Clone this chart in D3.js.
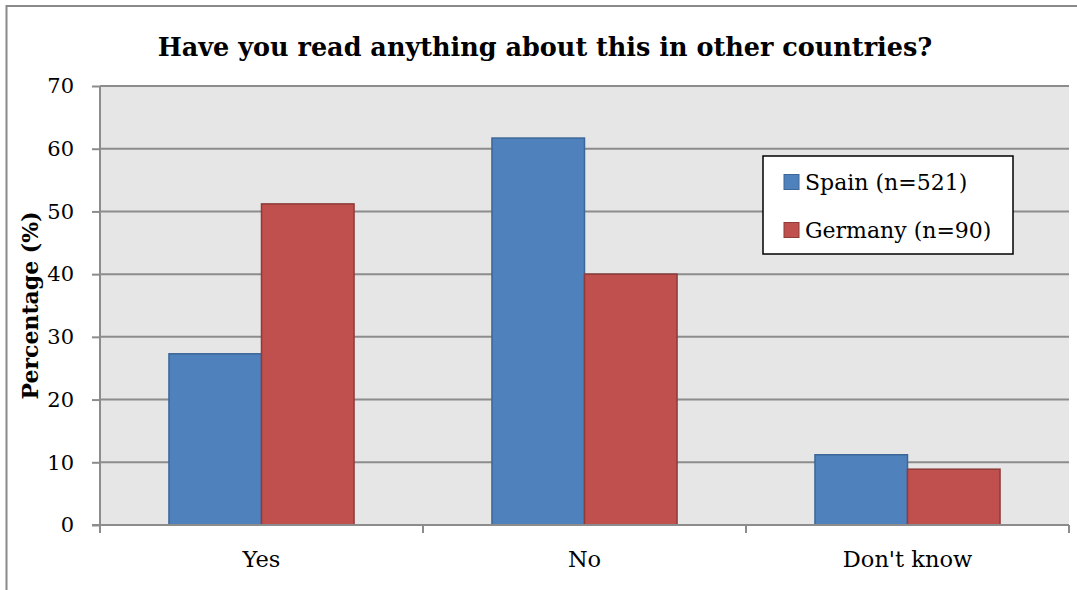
<!DOCTYPE html>
<html>
<head>
<meta charset="utf-8">
<script src="https://cdn.jsdelivr.net/npm/d3@7"></script>
<style>
  html, body { margin: 0; padding: 0; background: #fff; }
  svg { display: block; }
  text { font-family: "DejaVu Serif", "Liberation Serif", serif; fill: #000; }
</style>
</head>
<body>
<svg id="chart" width="1077" height="590"></svg>
<script>
const title = "Have you read anything about this in other countries?";
const yAxisLabel = "Percentage (%)";
const categories = ["Yes", "No", "Don't know"];
const seriesNames = ["Spain (n=521)", "Germany (n=90)"];
const spainValues = [27.3, 61.7, 11.2];
const germanyValues = [51.2, 40.0, 8.9];
const yTicks = [0, 10, 20, 30, 40, 50, 60, 70];

const fills = ["#4F81BD", "#C0504D"];
const strokes = ["#3C6796", "#8E3B39"];
const series = [spainValues, germanyValues];

const svg = d3.select("#chart");
const W = 1077, H = 590;
const m = { left: 100, right: 1069, top: 86, bottom: 525 };

// outer chart border (extends past the right/bottom edges)
svg.append("rect").attr("x", 6.5).attr("y", 6).attr("width", W + 20).attr("height", H + 20)
  .attr("fill", "#fff").attr("stroke", "#8a8a8a").attr("stroke-width", 2);

// plot background
svg.append("rect").attr("x", m.left).attr("y", m.top)
  .attr("width", m.right - m.left).attr("height", m.bottom - m.top)
  .attr("fill", "#E6E6E6");

const y = d3.scaleLinear().domain([0, 70]).range([m.bottom, m.top]);
const x0 = d3.scaleBand().domain(categories).range([m.left, m.right]).paddingInner(0.427).paddingOuter(0.2135);
const x1 = d3.scaleBand().domain([0, 1]).range([0, x0.bandwidth()]);

// gridlines
svg.append("g").selectAll("line").data(yTicks.filter(d => d > 0)).join("line")
  .attr("x1", m.left).attr("x2", m.right)
  .attr("y1", d => y(d)).attr("y2", d => y(d))
  .attr("stroke", "#8c8c8c").attr("stroke-width", 2);

// bars
const groups = svg.append("g").selectAll("g").data(categories).join("g")
  .attr("transform", d => `translate(${x0(d)},0)`);
groups.selectAll("rect").data((d, i) => series.map((s, k) => ({ k, v: s[i] }))).join("rect")
  .attr("x", d => x1(d.k)).attr("width", x1.bandwidth())
  .attr("y", d => y(d.v)).attr("height", d => y(0) - y(d.v))
  .attr("fill", d => fills[d.k]).attr("stroke", d => strokes[d.k]).attr("stroke-width", 1.5);

// y axis
const yAxis = d3.axisLeft(y).tickValues(yTicks).tickSize(8).tickPadding(18).tickFormat(d3.format("d"));
const gy = svg.append("g").attr("transform", `translate(${m.left},0)`).call(yAxis);
gy.select(".domain").attr("stroke", "#8c8c8c").attr("stroke-width", 2).attr("d", `M0,${m.top}V${m.bottom}`);
gy.selectAll(".tick line").attr("stroke", "#8c8c8c").attr("stroke-width", 2);
gy.selectAll(".tick text").attr("font-family", "DejaVu Serif").attr("font-size", 21).attr("fill", "#000");

// x axis
const xBoundaries = d3.scaleLinear().domain([0, categories.length]).range([m.left, m.right]);
const gx = svg.append("g");
gx.append("line").attr("x1", m.left - 8).attr("x2", m.right).attr("y1", m.bottom).attr("y2", m.bottom)
  .attr("stroke", "#8c8c8c").attr("stroke-width", 2);
gx.selectAll("line.tk").data(d3.range(categories.length + 1)).join("line").attr("class", "tk")
  .attr("x1", d => xBoundaries(d)).attr("x2", d => xBoundaries(d))
  .attr("y1", m.bottom).attr("y2", m.bottom + 8)
  .attr("stroke", "#8c8c8c").attr("stroke-width", 2);
gx.selectAll("text").data(categories).join("text")
  .attr("x", d => x0(d) + x0.bandwidth() / 2).attr("y", 567)
  .attr("text-anchor", "middle").attr("font-size", 22.5).text(d => d);

// title
svg.append("text").attr("x", 545).attr("y", 56).attr("text-anchor", "middle")
  .attr("font-weight", "bold").attr("font-size", 25.5).text(title);

// y label
svg.append("text").attr("transform", `translate(38,${(m.top + m.bottom) / 2}) rotate(-90)`)
  .attr("text-anchor", "middle").attr("font-weight", "bold").attr("font-size", 22).text(yAxisLabel);

// legend
const lg = svg.append("g");
lg.append("rect").attr("x", 763).attr("y", 156).attr("width", 250).attr("height", 98)
  .attr("fill", "#fff").attr("stroke", "#000").attr("stroke-width", 1.5);
const rows = lg.selectAll("g").data(seriesNames).join("g")
  .attr("transform", (d, i) => `translate(784,${182 + i * 48})`);
rows.append("rect").attr("x", 0).attr("y", -7.5).attr("width", 15).attr("height", 15)
  .attr("fill", (d, i) => fills[i]).attr("stroke", (d, i) => strokes[i]).attr("stroke-width", 1);
rows.append("text").attr("x", 21).attr("y", 7.5).attr("font-size", 22).text(d => d);
</script>
</body>
</html>
